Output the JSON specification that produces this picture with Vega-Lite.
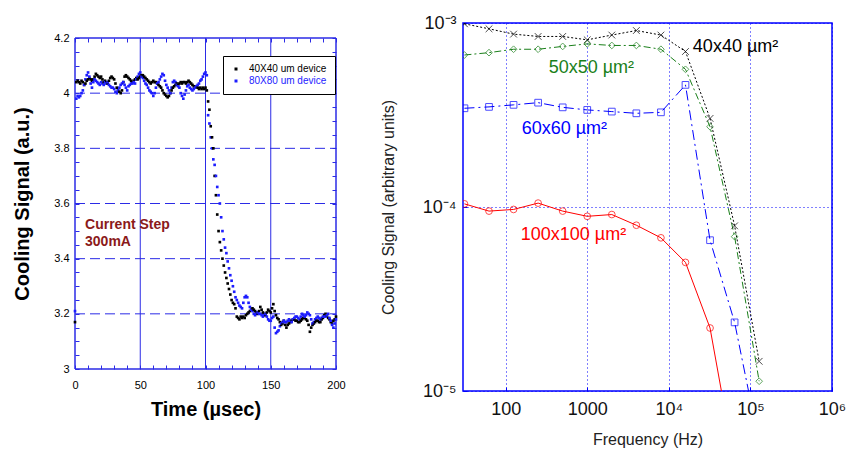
{
  "$schema": "https://vega.github.io/schema/vega-lite/v6.json",
  "padding": {"left": 12, "top": 13, "right": 0, "bottom": 0},
  "spacing": 33,
  "config": {"view": {"stroke": null}, "font": "Liberation Sans"},
  "resolve": {"scale": {"color": "independent", "shape": "independent", "x": "independent", "y": "independent"}},
  "datasets": {
    "ts": [
      {"t":0,"a":3.17,"b":3.21},{"t":1,"a":4.04,"b":3.98},{"t":2,"a":4.045,"b":3.99},{"t":3,"a":4.04,"b":3.985},{"t":4,"a":4.035,"b":3.99},
      {"t":5,"a":4.045,"b":4.0},{"t":6,"a":4.04,"b":4.01},{"t":7,"a":4.03,"b":4.03},{"t":8,"a":4.035,"b":4.05},{"t":9,"a":4.045,"b":4.065},
      {"t":10,"a":4.05,"b":4.075},{"t":11,"a":4.055,"b":4.06},{"t":12,"a":4.05,"b":4.035},{"t":13,"a":4.045,"b":4.02},{"t":14,"a":4.05,"b":4.04},
      {"t":15,"a":4.06,"b":4.05},{"t":16,"a":4.07,"b":4.045},{"t":17,"a":4.065,"b":4.04},{"t":18,"a":4.06,"b":4.035},{"t":19,"a":4.055,"b":4.03},
      {"t":20,"a":4.06,"b":4.04},{"t":21,"a":4.05,"b":4.035},{"t":22,"a":4.04,"b":4.03},{"t":23,"a":4.045,"b":4.04},{"t":24,"a":4.04,"b":4.035},
      {"t":25,"a":4.035,"b":4.04},{"t":26,"a":4.045,"b":4.03},{"t":27,"a":4.055,"b":4.025},{"t":28,"a":4.06,"b":4.02},{"t":29,"a":4.055,"b":4.02},
      {"t":30,"a":4.05,"b":4.015},{"t":31,"a":4.035,"b":4.005},{"t":32,"a":4.02,"b":4.0},{"t":33,"a":4.01,"b":4.01},{"t":34,"a":4.005,"b":4.02},
      {"t":35,"a":4.0,"b":4.03},{"t":36,"a":4.01,"b":4.035},{"t":37,"a":4.04,"b":4.04},{"t":38,"a":4.06,"b":4.03},{"t":39,"a":4.065,"b":4.02},
      {"t":40,"a":4.06,"b":4.01},{"t":41,"a":4.055,"b":4.025},{"t":42,"a":4.05,"b":4.03},{"t":43,"a":4.045,"b":4.035},{"t":44,"a":4.04,"b":4.035},
      {"t":45,"a":4.045,"b":4.04},{"t":46,"a":4.05,"b":4.035},{"t":47,"a":4.055,"b":4.05},{"t":48,"a":4.05,"b":4.06},{"t":49,"a":4.055,"b":4.07},
      {"t":50,"a":4.06,"b":4.075},{"t":51,"a":4.065,"b":4.06},{"t":52,"a":4.065,"b":4.055},{"t":53,"a":4.06,"b":4.045},{"t":54,"a":4.055,"b":4.035},
      {"t":55,"a":4.05,"b":4.03},{"t":56,"a":4.045,"b":4.02},{"t":57,"a":4.04,"b":4.01},{"t":58,"a":4.035,"b":4.005},{"t":59,"a":4.04,"b":4.0},
      {"t":60,"a":4.045,"b":3.99},{"t":61,"a":4.04,"b":4.0},{"t":62,"a":4.04,"b":4.02},{"t":63,"a":4.035,"b":4.035},{"t":64,"a":4.03,"b":4.04},
      {"t":65,"a":4.025,"b":4.05},{"t":66,"a":4.02,"b":4.06},{"t":67,"a":4.01,"b":4.07},{"t":68,"a":4.0,"b":4.065},{"t":69,"a":3.995,"b":4.045},
      {"t":70,"a":3.99,"b":4.03},{"t":71,"a":3.985,"b":4.02},{"t":72,"a":3.99,"b":4.01},{"t":73,"a":4.0,"b":4.0},{"t":74,"a":4.01,"b":4.02},
      {"t":75,"a":4.02,"b":4.04},{"t":76,"a":4.025,"b":4.045},{"t":77,"a":4.03,"b":4.04},{"t":78,"a":4.035,"b":4.03},{"t":79,"a":4.03,"b":4.025},
      {"t":80,"a":4.035,"b":4.02},{"t":81,"a":4.04,"b":4.0},{"t":82,"a":4.035,"b":3.99},{"t":83,"a":4.04,"b":3.98},{"t":84,"a":4.04,"b":3.995},
      {"t":85,"a":4.035,"b":4.01},{"t":86,"a":4.04,"b":4.025},{"t":87,"a":4.045,"b":4.03},{"t":88,"a":4.04,"b":4.02},{"t":89,"a":4.035,"b":4.015},
      {"t":90,"a":4.03,"b":4.01},{"t":91,"a":4.025,"b":4.015},{"t":92,"a":4.02,"b":4.02},{"t":93,"a":4.025,"b":4.025},{"t":94,"a":4.02,"b":4.03},
      {"t":95,"a":4.015,"b":4.035},{"t":96,"a":4.02,"b":4.045},{"t":97,"a":4.015,"b":4.05},{"t":98,"a":4.02,"b":4.06},{"t":99,"a":4.015,"b":4.07},
      {"t":100,"a":4.02,"b":4.075},{"t":101,"a":4.01,"b":4.065},{"t":102,"a":3.97,"b":3.92},{"t":103,"a":3.94,"b":3.89},{"t":104,"a":3.88,"b":3.84},
      {"t":105,"a":3.84,"b":3.8},{"t":106,"a":3.8,"b":3.76},{"t":107,"a":3.7,"b":3.74},{"t":108,"a":3.63,"b":3.7},{"t":109,"a":3.56,"b":3.66},
      {"t":110,"a":3.5,"b":3.63},{"t":111,"a":3.46,"b":3.6},{"t":112,"a":3.43,"b":3.55},{"t":113,"a":3.4,"b":3.5},{"t":114,"a":3.375,"b":3.47},
      {"t":115,"a":3.35,"b":3.44},{"t":116,"a":3.33,"b":3.42},{"t":117,"a":3.31,"b":3.39},{"t":118,"a":3.29,"b":3.365},{"t":119,"a":3.27,"b":3.34},
      {"t":120,"a":3.25,"b":3.32},{"t":121,"a":3.24,"b":3.3},{"t":122,"a":3.235,"b":3.28},{"t":123,"a":3.22,"b":3.26},{"t":124,"a":3.19,"b":3.25},
      {"t":125,"a":3.185,"b":3.24},{"t":126,"a":3.18,"b":3.23},{"t":127,"a":3.19,"b":3.225},{"t":128,"a":3.185,"b":3.22},{"t":129,"a":3.19,"b":3.24},
      {"t":130,"a":3.185,"b":3.26},{"t":131,"a":3.195,"b":3.265},{"t":132,"a":3.2,"b":3.26},{"t":133,"a":3.205,"b":3.24},{"t":134,"a":3.21,"b":3.225},
      {"t":135,"a":3.215,"b":3.215},{"t":136,"a":3.22,"b":3.21},{"t":137,"a":3.215,"b":3.2},{"t":138,"a":3.21,"b":3.195},{"t":139,"a":3.205,"b":3.2},
      {"t":140,"a":3.2,"b":3.205},{"t":141,"a":3.21,"b":3.2},{"t":142,"a":3.225,"b":3.2},{"t":143,"a":3.215,"b":3.195},{"t":144,"a":3.205,"b":3.19},
      {"t":145,"a":3.2,"b":3.195},{"t":146,"a":3.195,"b":3.2},{"t":147,"a":3.205,"b":3.19},{"t":148,"a":3.215,"b":3.18},{"t":149,"a":3.21,"b":3.175},
      {"t":150,"a":3.205,"b":3.175},{"t":151,"a":3.22,"b":3.185},{"t":152,"a":3.235,"b":3.19},{"t":153,"a":3.21,"b":3.15},{"t":154,"a":3.195,"b":3.13},
      {"t":155,"a":3.185,"b":3.135},{"t":156,"a":3.18,"b":3.14},{"t":157,"a":3.17,"b":3.155},{"t":158,"a":3.16,"b":3.165},{"t":159,"a":3.165,"b":3.17},
      {"t":160,"a":3.175,"b":3.175},{"t":161,"a":3.16,"b":3.17},{"t":162,"a":3.15,"b":3.17},{"t":163,"a":3.16,"b":3.175},{"t":164,"a":3.165,"b":3.18},
      {"t":165,"a":3.17,"b":3.175},{"t":166,"a":3.175,"b":3.17},{"t":167,"a":3.18,"b":3.18},{"t":168,"a":3.18,"b":3.185},{"t":169,"a":3.175,"b":3.19},
      {"t":170,"a":3.175,"b":3.19},{"t":171,"a":3.17,"b":3.185},{"t":172,"a":3.17,"b":3.18},{"t":173,"a":3.175,"b":3.19},{"t":174,"a":3.18,"b":3.2},
      {"t":175,"a":3.185,"b":3.195},{"t":176,"a":3.185,"b":3.19},{"t":177,"a":3.18,"b":3.195},{"t":178,"a":3.175,"b":3.205},{"t":179,"a":3.16,"b":3.2},
      {"t":180,"a":3.135,"b":3.195},{"t":181,"a":3.15,"b":3.18},{"t":182,"a":3.16,"b":3.165},{"t":183,"a":3.165,"b":3.17},{"t":184,"a":3.17,"b":3.18},
      {"t":185,"a":3.175,"b":3.185},{"t":186,"a":3.175,"b":3.19},{"t":187,"a":3.17,"b":3.185},{"t":188,"a":3.17,"b":3.18},{"t":189,"a":3.18,"b":3.185},
      {"t":190,"a":3.185,"b":3.19},{"t":191,"a":3.195,"b":3.19},{"t":192,"a":3.2,"b":3.19},{"t":193,"a":3.195,"b":3.195},{"t":194,"a":3.185,"b":3.2},
      {"t":195,"a":3.18,"b":3.185},{"t":196,"a":3.17,"b":3.175},{"t":197,"a":3.165,"b":3.16},{"t":198,"a":3.175,"b":3.15},{"t":199,"a":3.18,"b":3.165},
      {"t":200,"a":3.19,"b":3.18}
    ],
    "fr": [
      {"f":31.25,"v":9.9e-4,"s":"a"},{"f":62.5,"v":9.3e-4,"s":"a"},{"f":125,"v":8.7e-4,"s":"a"},{"f":250,"v":8.45e-4,"s":"a"},{"f":500,"v":8.45e-4,"s":"a"},
      {"f":1000,"v":8.1e-4,"s":"a"},{"f":2000,"v":8.6e-4,"s":"a"},{"f":4000,"v":9.1e-4,"s":"a"},{"f":8000,"v":8.6e-4,"s":"a"},{"f":16000,"v":7.0e-4,"s":"a"},
      {"f":32000,"v":3.03e-4,"s":"a"},{"f":64000,"v":7.9e-5,"s":"a"},{"f":128000,"v":1.45e-5,"s":"a"},
      {"f":31.25,"v":6.7e-4,"s":"b"},{"f":62.5,"v":6.9e-4,"s":"b"},{"f":125,"v":7.2e-4,"s":"b"},{"f":250,"v":7.2e-4,"s":"b"},{"f":500,"v":7.46e-4,"s":"b"},
      {"f":1000,"v":7.7e-4,"s":"b"},{"f":2000,"v":7.55e-4,"s":"b"},{"f":4000,"v":7.55e-4,"s":"b"},{"f":8000,"v":7.2e-4,"s":"b"},{"f":16000,"v":5.6e-4,"s":"b"},
      {"f":32000,"v":2.73e-4,"s":"b"},{"f":64000,"v":6.9e-5,"s":"b"},{"f":128000,"v":1.13e-5,"s":"b"},
      {"f":31.25,"v":3.44e-4,"s":"c"},{"f":62.5,"v":3.5e-4,"s":"c"},{"f":125,"v":3.59e-4,"s":"c"},{"f":250,"v":3.69e-4,"s":"c"},{"f":500,"v":3.48e-4,"s":"c"},
      {"f":1000,"v":3.37e-4,"s":"c"},{"f":2000,"v":3.3e-4,"s":"c"},{"f":4000,"v":3.23e-4,"s":"c"},{"f":8000,"v":3.27e-4,"s":"c"},{"f":16000,"v":4.61e-4,"s":"c"},
      {"f":32000,"v":6.6e-5,"s":"c"},{"f":64000,"v":2.36e-5,"s":"c"},{"f":128000,"v":5.2e-6,"s":"c"},
      {"f":31.25,"v":1.04e-4,"s":"d"},{"f":62.5,"v":9.5e-5,"s":"d"},{"f":125,"v":9.7e-5,"s":"d"},{"f":250,"v":1.05e-4,"s":"d"},{"f":500,"v":9.5e-5,"s":"d"},
      {"f":1000,"v":8.9e-5,"s":"d"},{"f":2000,"v":9.1e-5,"s":"d"},{"f":4000,"v":7.96e-5,"s":"d"},{"f":8000,"v":6.8e-5,"s":"d"},{"f":16000,"v":5.0e-5,"s":"d"},
      {"f":32000,"v":2.2e-5,"s":"d"},{"f":64000,"v":4e-6,"s":"d"}
    ]
  },
  "hconcat": [
    {
      "width": 261,
      "height": 346,
      "resolve": {"axis": {"x": "independent", "y": "independent"}},
      "layer": [
        {
          "data": {"values": [{"t":50},{"t":100},{"t":150}]},
          "mark": {"type": "rule", "color": "#2b2be6", "strokeWidth": 1},
          "encoding": {
            "x": {"field": "t", "type": "quantitative", "scale": {"domain": [0, 200], "nice": false, "zero": false}, "axis": null},
            "y": {"datum": 3, "type": "quantitative", "scale": {"domain": [3, 4.2], "range": [346, 15], "nice": false, "zero": false}, "axis": null},
            "y2": {"datum": 4.2}
          }
        },
        {
          "data": {"values": [{"y":3.2},{"y":3.4},{"y":3.6},{"y":3.8},{"y":4.0}]},
          "mark": {"type": "rule", "color": "#2b2be6", "strokeWidth": 1, "strokeDash": [10, 5]},
          "encoding": {
            "y": {"field": "y", "type": "quantitative", "axis": null},
            "x": {"datum": 0, "type": "quantitative", "axis": null},
            "x2": {"datum": 200}
          }
        },
        {
          "data": {"values": [{"t":0},{"t":200}]},
          "mark": {"type": "rule", "color": "#2b2be6", "strokeWidth": 1.5},
          "encoding": {
            "x": {"field": "t", "type": "quantitative", "axis": {"orient": "top", "offset": -15, "values": [0,10,20,30,40,50,60,70,80,90,100,110,120,130,140,150,160,170,180,190,200], "labels": false, "domain": false, "grid": false, "tickSize": -4, "tickColor": "#2b2be6", "title": null}},
            "y": {"datum": 3, "type": "quantitative", "axis": null},
            "y2": {"datum": 4.2}
          }
        },
        {
          "data": {"values": [{"y":3},{"y":4.2}]},
          "mark": {"type": "rule", "color": "#2b2be6", "strokeWidth": 1.5},
          "encoding": {
            "y": {"field": "y", "type": "quantitative", "axis": {"orient": "right", "values": [3,3.05,3.1,3.15,3.2,3.25,3.3,3.35,3.4,3.45,3.5,3.55,3.6,3.65,3.7,3.75,3.8,3.85,3.9,3.95,4,4.05,4.1,4.15,4.2], "labels": false, "domain": false, "grid": false, "tickSize": -4, "tickColor": "#2b2be6", "title": null}},
            "x": {"datum": 0, "type": "quantitative", "axis": null},
            "x2": {"datum": 200}
          }
        },
        {
          "data": {"name": "ts"},
          "transform": [{"fold": ["a", "b"], "as": ["k", "v"]}],
          "mark": {"type": "square", "size": 7, "opacity": 1},
          "encoding": {
            "x": {"field": "t", "type": "quantitative", "axis": {"orient": "bottom", "values": [0,10,20,30,40,50,60,70,80,90,100,110,120,130,140,150,160,170,180,190,200], "labelExpr": "datum.value % 50 == 0 ? datum.label : ''", "labelFlush": false, "domain": false, "grid": false, "tickSize": -4, "tickColor": "#2b2be6", "labelFontSize": 11, "labelColor": "black", "labelPadding": 14, "title": "Time (µsec)", "titleFontSize": 20, "titleFontWeight": "bold", "titlePadding": 9}},
            "y": {"field": "v", "type": "quantitative", "axis": {"orient": "left", "values": [3,3.05,3.1,3.15,3.2,3.25,3.3,3.35,3.4,3.45,3.5,3.55,3.6,3.65,3.7,3.75,3.8,3.85,3.9,3.95,4,4.05,4.1,4.15,4.2], "labelExpr": "(abs(datum.value*5 - round(datum.value*5)) < 0.001) ? format(datum.value, '~g') : ''", "labelFlush": false, "domain": false, "grid": false, "tickSize": -4, "tickColor": "#2b2be6", "labelFontSize": 11, "labelColor": "black", "labelPadding": 10, "title": "Cooling Signal (a.u.)", "titleFontSize": 20, "titleFontWeight": "bold", "titlePadding": 21}},
            "color": {
              "field": "k", "type": "nominal",
              "scale": {"domain": ["a", "b"], "range": ["#000000", "#1d1dff"]},
              "legend": {"orient": "none", "legendX": 148, "legendY": 33, "title": null, "strokeColor": "black", "fillColor": "white", "padding": 8, "labelFontSize": 10, "symbolType": "square", "symbolSize": 9, "rowPadding": 2, "labelOffset": 8,
                "labelExpr": "datum.value == 'a' ? '40X40 um device' : '80X80 um device'",
                "labelColor": {"expr": "datum.value == 'a' ? 'black' : '#1d1dff'"}}
            }
          }
        },
        {
          "data": {"values": [{"t":7.7,"y":3.508,"txt":"Current Step"},{"t":7.7,"y":3.446,"txt":"300mA"}]},
          "mark": {"type": "text", "align": "left", "baseline": "alphabetic", "fontSize": 14, "fontWeight": "bold", "color": "#8b1a1a"},
          "encoding": {
            "x": {"field": "t", "type": "quantitative", "axis": null},
            "y": {"field": "y", "type": "quantitative", "axis": null},
            "text": {"field": "txt"}
          }
        }
      ]
    },
    {
      "width": 369,
      "height": 368,
      "view": {"stroke": "#0000ff", "strokeWidth": 1.5},
      "encoding": {
        "x": {"field": "f", "type": "quantitative", "scale": {"type": "log", "domain": [30, 1000000], "nice": false},
          "axis": {"values": [100, 1000, 10000, 100000, 1000000], "labelExpr": "datum.value == 100 ? '100' : datum.value == 1000 ? '1000' : datum.value == 10000 ? '10⁴' : datum.value == 100000 ? '10⁵' : '10⁶'", "labelFlush": false, "grid": true, "gridColor": "#0000ff", "gridDash": [1, 3], "gridWidth": 1, "domain": false, "tickSize": -4, "tickColor": "#0000ff", "labelFontSize": 18, "labelColor": "#111111", "labelPadding": 13, "title": "Frequency (Hz)", "titleFontSize": 16, "titleFontWeight": "normal", "titleColor": "#222222", "titlePadding": 13}},
        "y": {"field": "v", "type": "quantitative", "scale": {"type": "log", "domain": [0.00001, 0.001], "nice": false},
          "axis": {"values": [0.00001, 0.0001, 0.001], "labelExpr": "datum.value < 0.00005 ? '10⁻⁵' : datum.value < 0.0005 ? '10⁻⁴' : '10⁻³'", "labelFlush": false, "grid": true, "gridColor": "#0000ff", "gridDash": [1, 3], "gridWidth": 1, "domain": false, "tickSize": -4, "tickColor": "#0000ff", "labelFontSize": 18, "labelColor": "#111111", "labelPadding": 11, "title": "Cooling Signal (arbitrary units)", "titleFontSize": 16, "titleFontWeight": "normal", "titleColor": "#222222", "titlePadding": 26}},
        "color": {"field": "s", "type": "nominal", "scale": {"domain": ["a", "b", "c", "d"], "range": ["#000000", "#1a7f1a", "#0000ff", "#ff0000"]}, "legend": null}
      },
      "layer": [
        {"data": {"name": "fr"}, "transform": [{"filter": "datum.s == 'a'"}], "mark": {"type": "line", "strokeWidth": 1, "clip": true, "strokeDash": [2, 2]}},
        {"data": {"name": "fr"}, "transform": [{"filter": "datum.s == 'b'"}], "mark": {"type": "line", "strokeWidth": 1, "clip": true, "strokeDash": [7, 3, 2, 3]}},
        {"data": {"name": "fr"}, "transform": [{"filter": "datum.s == 'c'"}], "mark": {"type": "line", "strokeWidth": 1, "clip": true, "strokeDash": [10, 4, 2, 4]}},
        {"data": {"name": "fr"}, "transform": [{"filter": "datum.s == 'd'"}], "mark": {"type": "line", "strokeWidth": 1, "clip": true}},
        {
          "data": {"name": "fr"},
          "mark": {"type": "point", "filled": false, "size": 45, "strokeWidth": 1, "clip": true},
          "encoding": {
            "shape": {"field": "s", "type": "nominal", "scale": {"domain": ["a", "b", "c", "d"], "range": ["M-1,-1L1,1M-1,1L1,-1", "diamond", "square", "circle"]}, "legend": null}
          }
        },
        {
          "data": {"values": [
            {"f": 19700, "v": 0.0007, "s": "a", "txt": "40x40 µm²"},
            {"f": 337, "v": 0.000535, "s": "b", "txt": "50x50 µm²"},
            {"f": 157, "v": 0.000248, "s": "c", "txt": "60x60 µm²"},
            {"f": 153, "v": 0.000066, "s": "d", "txt": "100x100 µm²"}
          ]},
          "mark": {"type": "text", "align": "left", "baseline": "alphabetic", "fontSize": 18},
          "encoding": {"text": {"field": "txt"}}
        }
      ]
    }
  ]
}
